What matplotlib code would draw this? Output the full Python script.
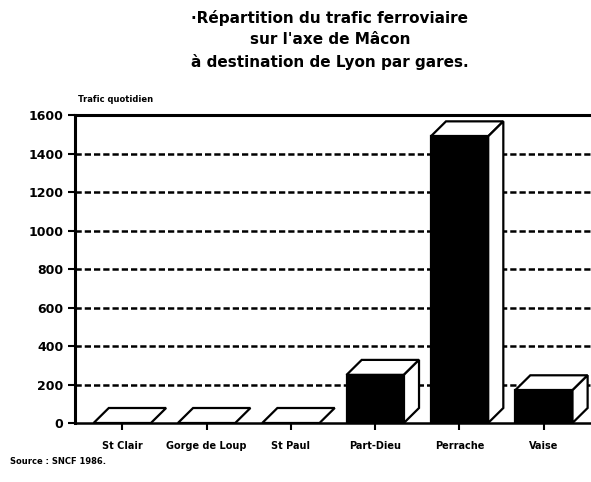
import matplotlib.pyplot as plt
from matplotlib.patches import Polygon

gares = ['St Clair', 'Gorge de Loup', 'St Paul', 'Part-Dieu', 'Perrache', 'Vaise']
trafic = [0, 0, 0, 250, 1490, 170]
yticks = [0, 200, 400, 600, 800, 1000, 1200, 1400, 1600]

def main():
    fig = plt.figure(figsize=(5.91, 4.82), dpi=100)
    ax = fig.add_axes([0.127, 0.1224, 0.873, 0.6386])

    width = 0.68
    dx, dy = 0.18, 78  # depth of the 3D effect, in data units

    for y in yticks[1:-1]:
        ax.axhline(y, color='black', lw=1.8, ls=(0, (2.5, 1.2)), zorder=1)

    for i, v in enumerate(trafic):
        x0 = i - width / 2
        x1 = i + width / 2
        # top face
        top = Polygon([(x0, v), (x1, v), (x1 + dx, v + dy), (x0 + dx, v + dy)],
                      closed=True, facecolor='white', edgecolor='black', lw=1.6, zorder=3)
        ax.add_patch(top)
        if v > 0:
            side = Polygon([(x1, 0), (x1 + dx, dy), (x1 + dx, v + dy), (x1, v)],
                           closed=True, facecolor='white', edgecolor='black', lw=1.6, zorder=3)
            ax.add_patch(side)
            ax.bar(i, v, width=width, color='black', edgecolor='black', lw=1.6, zorder=4)

    ax.set_xlim(-0.56, 5.56)
    ax.set_ylim(0, 1600)
    ax.set_yticks(yticks)
    ax.set_yticklabels([str(t) for t in yticks], fontsize=9, fontweight='bold')
    ax.set_xticks(range(len(gares)))
    ax.set_xticklabels(gares, fontsize=7, fontweight='bold')
    ax.tick_params(axis='both', length=5, width=1.5, direction='out', color='black')
    ax.tick_params(axis='x', pad=8)

    for s in ['left', 'top']:
        ax.spines[s].set_linewidth(2.2)
    ax.spines['bottom'].set_linewidth(1.8)
    ax.spines['right'].set_visible(False)

    fig.text(0.558, 0.98, "·Répartition du trafic ferroviaire\nsur l'axe de Mâcon\nà destination de Lyon par gares.",
             ha='center', va='top', fontsize=11, fontweight='bold', linespacing=1.55)
    fig.text(0.132, 0.785, 'Trafic quotidien', fontsize=6, fontweight='bold', va='bottom')
    fig.text(0.017, 0.037, 'Source : SNCF 1986.', fontsize=6, fontweight='bold')

    fig.savefig('out.png', dpi=100)

if __name__ == "__main__":
    main()
